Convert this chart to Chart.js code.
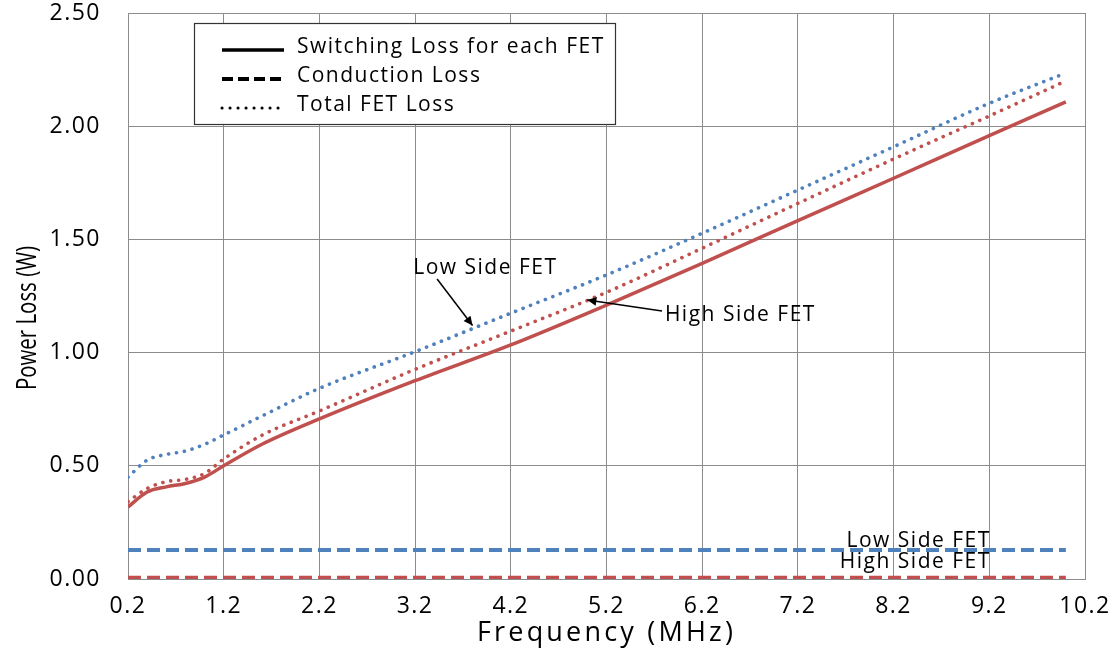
<!DOCTYPE html>
<html>
<head>
<meta charset="utf-8">
<script src="https://cdn.jsdelivr.net/npm/chart.js@4.4.1/dist/chart.umd.min.js"></script>
<style>
  html, body { margin: 0; background: #fff; }
  #wrap { width: 1115px; height: 650px; }
</style>
</head>
<body>
<div id="wrap"><canvas id="chart" width="1115" height="650"></canvas></div>
<script>
"use strict";

// Frequency sweep (MHz) and loss per FET (W)
const freqMHz = [0.2, 0.4, 0.6, 0.8, 1.0, 1.2, 1.6, 2.2, 3.2, 4.2, 5.2, 6.2, 7.2, 8.2, 9.2, 10.0];
const hsSwitching = [0.318, 0.384, 0.407, 0.422, 0.450, 0.500, 0.595, 0.707, 0.876, 1.034, 1.210, 1.394, 1.583, 1.770, 1.958, 2.107];
const hsTotal = [0.342, 0.400, 0.430, 0.440, 0.466, 0.530, 0.635, 0.742, 0.926, 1.095, 1.266, 1.461, 1.659, 1.855, 2.045, 2.200];
const lsTotal = [0.450, 0.525, 0.550, 0.565, 0.595, 0.636, 0.720, 0.842, 1.004, 1.174, 1.343, 1.527, 1.718, 1.909, 2.101, 2.235];

// Conduction loss does not depend on frequency
const condFreq = [0.2, 10.0];
const lsConduction = [0.128, 0.128];
const hsConduction = [0.005, 0.005];

const xTicks = [0.2, 1.2, 2.2, 3.2, 4.2, 5.2, 6.2, 7.2, 8.2, 9.2, 10.2];
const xTickLabels = ["0.2", "1.2", "2.2", "3.2", "4.2", "5.2", "6.2", "7.2", "8.2", "9.2", "10.2"];
const yTicks = [0, 0.5, 1.0, 1.5, 2.0, 2.5];
const yTickLabels = ["0.00", "0.50", "1.00", "1.50", "2.00", "2.50"];

const legendItems = ["Switching Loss for each FET", "Conduction Loss", "Total FET Loss"];

const RED = "#c0504d";
const BLUE = "#4f81bd";
const GRID = "#8c8c8c";
const FONT = "'Open Sans', Lato, sans-serif";

const STYLES = {
  solid: { borderWidth: 3.5, borderDash: [], borderCapStyle: "butt" },
  dash: { borderWidth: 4, borderDash: [13, 6], borderCapStyle: "butt" },
  dot: { borderWidth: 3.6, borderDash: [0.1, 7.9], borderCapStyle: "round" },
};

function series(label, xs, ys, color, style) {
  return Object.assign({
    label,
    data: xs.map((x, i) => ({ x, y: ys[i] })),
    borderColor: color,
    backgroundColor: color,
    pointRadius: 0,
    fill: false,
    cubicInterpolationMode: "monotone",
  }, STYLES[style]);
}

// Callouts, placed in data units
const callouts = [
  { text: "Low Side FET", tx: 3.18, ty: 1.374, fx: 3.43, fy: 1.325, hx: 3.8, hy: 1.12 },
  { text: "High Side FET", tx: 5.81, ty: 1.166, fx: 5.78, fy: 1.184, hx: 5.0, hy: 1.232 },
];
const condLabels = [
  { text: "Low Side FET", x: 9.2, y: 0.168 },
  { text: "High Side FET", x: 9.2, y: 0.075 },
];

function arrow(ctx, x1, y1, x2, y2) {
  const a = Math.atan2(y2 - y1, x2 - x1);
  ctx.beginPath();
  ctx.moveTo(x1, y1);
  ctx.lineTo(x2, y2);
  ctx.stroke();
  ctx.beginPath();
  ctx.moveTo(x2, y2);
  ctx.lineTo(x2 - 10 * Math.cos(a - 0.45), y2 - 10 * Math.sin(a - 0.45));
  ctx.lineTo(x2 - 10 * Math.cos(a + 0.45), y2 - 10 * Math.sin(a + 0.45));
  ctx.closePath();
  ctx.fill();
}

// keep the plot box fixed: no extra room for edge labels
function noEdgePadding(axis) {
  axis.paddingTop = 0;
  axis.paddingBottom = 0;
  axis.paddingLeft = 0;
  axis.paddingRight = 0;
}

const overlay = {
  id: "overlay",
  beforeDraw(chart) {
    // wider tracking for the tick labels drawn by the scales
    chart.ctx.letterSpacing = "1.5px";
  },
  afterDraw(chart) {
    const { ctx, chartArea: area, scales: { x, y } } = chart;
    ctx.save();
    ctx.fillStyle = "#000";
    ctx.strokeStyle = "#000";

    // axis titles
    ctx.font = `27px ${FONT}`;
    ctx.letterSpacing = "3.2px";
    ctx.textAlign = "center";
    ctx.textBaseline = "middle";
    ctx.fillText("Frequency (MHz)", (area.left + area.right) / 2, 633);
    ctx.letterSpacing = "0px";
    ctx.save();
    ctx.translate(28, 318);
    ctx.rotate(-Math.PI / 2);
    ctx.font = `27px ${FONT}`;
    ctx.fillText("Power Loss (W)", 0, 0, 144);
    ctx.restore();

    // legend box
    ctx.fillStyle = "#fff";
    ctx.fillRect(194, 23, 421, 101);
    ctx.lineWidth = 1.2;
    ctx.strokeStyle = "#333";
    ctx.strokeRect(194.5, 23.5, 421, 101);
    ctx.strokeStyle = "#000";
    ctx.fillStyle = "#000";
    ctx.font = `21px ${FONT}`;
    ctx.letterSpacing = "1.5px";
    ctx.textAlign = "left";
    const rows = [47, 76, 105];
    const legendStyles = ["solid", "dash", "dot"];
    legendItems.forEach((txt, i) => {
      const st = STYLES[legendStyles[i]];
      ctx.save();
      ctx.lineWidth = i === 2 ? 3 : st.borderWidth;
      ctx.setLineDash(i === 1 ? [11, 5] : st.borderDash);
      ctx.lineCap = st.borderCapStyle;
      ctx.beginPath();
      ctx.moveTo(222, rows[i] + 3);
      ctx.lineTo(284, rows[i] + 3);
      ctx.stroke();
      ctx.restore();
      ctx.fillText(txt, 297, rows[i]);
    });

    // callouts with arrows
    ctx.lineWidth = 1.5;
    callouts.forEach((c) => {
      ctx.textAlign = "left";
      ctx.fillText(c.text, x.getPixelForValue(c.tx), y.getPixelForValue(c.ty));
      arrow(ctx, x.getPixelForValue(c.fx), y.getPixelForValue(c.fy),
        x.getPixelForValue(c.hx), y.getPixelForValue(c.hy));
    });

    ctx.textAlign = "right";
    condLabels.forEach((c) => {
      ctx.fillText(c.text, x.getPixelForValue(c.x) + 1.5, y.getPixelForValue(c.y));
    });
    ctx.restore();
    ctx.letterSpacing = "0px";
  },
};

new Chart(document.getElementById("chart"), {
  type: "line",
  data: {
    datasets: [
      series("LS Conduction", condFreq, lsConduction, BLUE, "dash"),
      series("HS Conduction", condFreq, hsConduction, RED, "dash"),
      series("HS Switching", freqMHz, hsSwitching, RED, "solid"),
      series("HS Total", freqMHz, hsTotal, RED, "dot"),
      series("LS Total", freqMHz, lsTotal, BLUE, "dot"),
    ],
  },
  options: {
    responsive: false,
    animation: false,
    layout: { padding: { top: 13, right: 30, left: 0, bottom: 0 } },
    plugins: { legend: { display: false }, tooltip: { enabled: false } },
    scales: {
      x: {
        type: "linear",
        min: 0.2,
        max: 10.2,
        afterBuildTicks: (axis) => { axis.ticks = xTicks.map((v) => ({ value: v })); },
        afterFit: (axis) => { axis.height = 71; noEdgePadding(axis); },
        ticks: {
          callback: (v, i) => xTickLabels[i],
          font: { family: FONT, size: 23 },
          color: "#000",
          padding: 14,
          maxRotation: 0,
        },
        grid: { color: GRID, lineWidth: 1, drawTicks: false },
        border: { color: GRID, width: 1 },
      },
      y: {
        min: 0,
        max: 2.5,
        afterBuildTicks: (axis) => { axis.ticks = yTicks.map((v) => ({ value: v })); },
        afterFit: (axis) => { axis.width = 128; noEdgePadding(axis); },
        ticks: {
          callback: (v, i) => yTickLabels[i],
          font: { family: FONT, size: 23 },
          color: "#000",
          padding: 27,
        },
        grid: { color: GRID, lineWidth: 1, drawTicks: false },
        border: { color: GRID, width: 1 },
      },
    },
  },
  plugins: [overlay],
});
</script>
</body>
</html>
